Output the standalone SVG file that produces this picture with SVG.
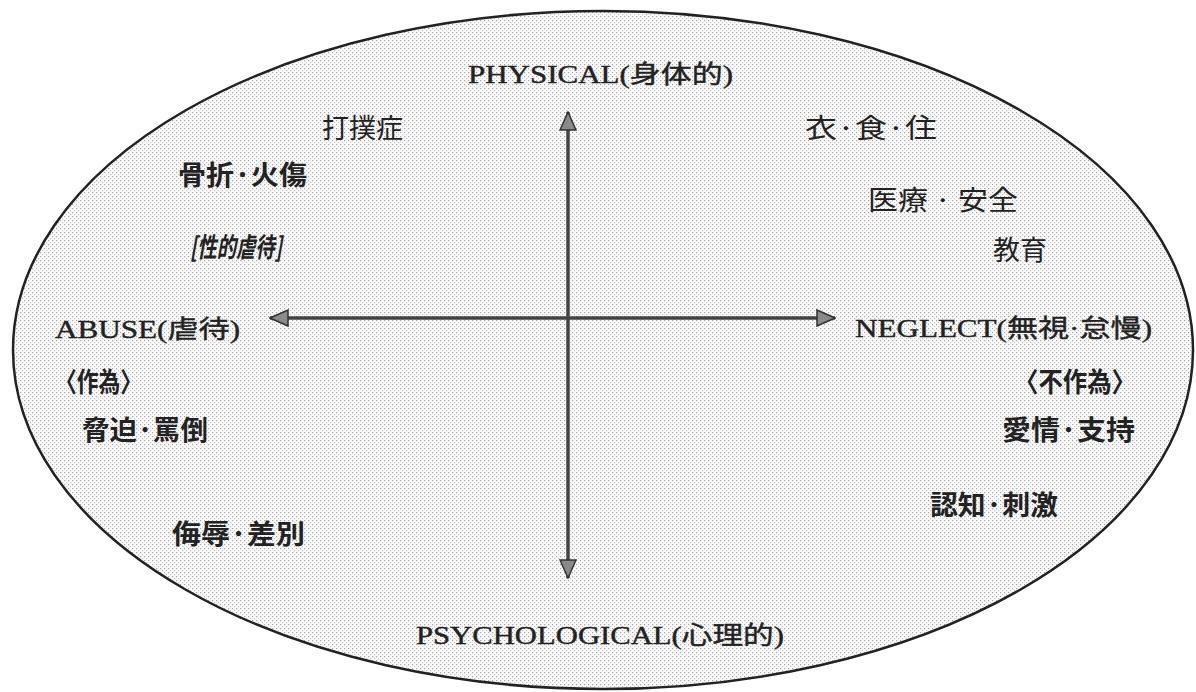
<svg xmlns="http://www.w3.org/2000/svg" width="1196" height="692" viewBox="0 0 1196 692">
<style>
.lat{font-family:"Liberation Serif","Noto Sans CJK JP",serif;font-size:25px;fill:#222;stroke:#222;stroke-width:0.4;}
.cj{font-family:"Noto Sans CJK JP",sans-serif;font-size:27px;fill:#222;}
.b{font-weight:bold;}
.it{font-style:italic;}
.ax{stroke:#444;stroke-width:3.5;fill:none;}
</style>
<defs>
<pattern id="dots" width="4" height="4" patternUnits="userSpaceOnUse">
<rect width="4" height="4" fill="#fafafa"/>
<rect x="0" y="0" width="1.2" height="1.2" fill="#a8a8a8"/>
<rect x="2" y="2" width="1.2" height="1.2" fill="#c8c8c8"/>
</pattern>
<marker id="ah" viewBox="0 0 20 18" refX="19" refY="9" markerWidth="20" markerHeight="18" markerUnits="userSpaceOnUse" orient="auto-start-reverse">
<path d="M1,1 L19,9 L1,17 Z" fill="#8a8a8a" stroke="#333" stroke-width="1.5"/>
</marker>
</defs>
<rect width="1196" height="692" fill="#fff"/>
<g id="field">
<ellipse cx="603" cy="350" rx="590" ry="339" fill="url(#dots)" stroke="#222" stroke-width="2.5"/>
</g>
<g id="connectors">
<line class="ax" x1="568" y1="112" x2="568" y2="578" marker-start="url(#ah)" marker-end="url(#ah)"/>
<line class="ax" x1="270" y1="318" x2="835" y2="318" marker-start="url(#ah)" marker-end="url(#ah)"/>
</g>
<g id="physical"><text class="lat" x="468" y="83" textLength="265" lengthAdjust="spacingAndGlyphs">PHYSICAL(身体的)</text></g>
<g id="psychological"><text class="lat" x="416" y="644" textLength="368" lengthAdjust="spacingAndGlyphs">PSYCHOLOGICAL(心理的)</text></g>
<g id="abuse"><text class="lat" x="55" y="338" textLength="185" lengthAdjust="spacingAndGlyphs">ABUSE(虐待)</text></g>
<g id="neglect"><text class="lat" x="855" y="337" textLength="297" lengthAdjust="spacingAndGlyphs">NEGLECT(無視·怠慢)</text></g>
<g id="dabokusho"><text class="cj" x="322" y="138">打撲症</text></g>
<g id="kossetsu"><text class="cj b" x="178" y="185" textLength="129" lengthAdjust="spacingAndGlyphs">骨折·火傷</text></g>
<g id="seiteki"><text class="cj b it" x="190" y="257" font-size="26" textLength="92" lengthAdjust="spacingAndGlyphs">[性的虐待]</text></g>
<g id="sakui"><text class="cj b" x="55" y="392" font-size="24" textLength="87" lengthAdjust="spacingAndGlyphs">〈作為〉</text></g>
<g id="kyouhaku"><text class="cj b" x="82" y="440" textLength="126" lengthAdjust="spacingAndGlyphs">脅迫·罵倒</text></g>
<g id="bujoku"><text class="cj b" x="172" y="544" textLength="133" lengthAdjust="spacingAndGlyphs">侮辱·差別</text></g>
<g id="ishokuju"><text class="cj" x="805" y="138" textLength="132" lengthAdjust="spacingAndGlyphs">衣·食·住</text></g>
<g id="iryou"><text class="cj" x="868" y="210" font-size="26" textLength="150" lengthAdjust="spacingAndGlyphs">医療 · 安全</text></g>
<g id="kyouiku"><text class="cj" x="993" y="260">教育</text></g>
<g id="fusakui"><text class="cj b" x="1014" y="392" font-size="24" textLength="122" lengthAdjust="spacingAndGlyphs">〈不作為〉</text></g>
<g id="aijou"><text class="cj b" x="1002" y="440" textLength="133" lengthAdjust="spacingAndGlyphs">愛情·支持</text></g>
<g id="ninchi"><text class="cj b" x="930" y="515" textLength="128" lengthAdjust="spacingAndGlyphs">認知·刺激</text></g>
</svg>
